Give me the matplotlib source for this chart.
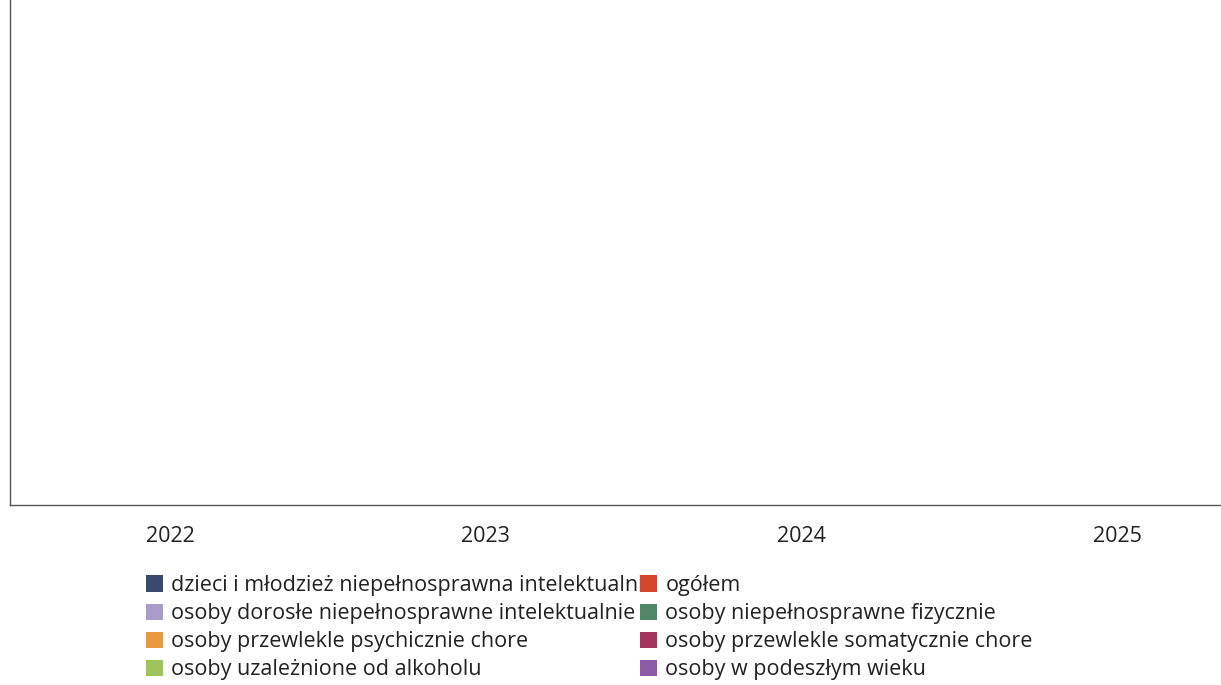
import numpy as np
import matplotlib.pyplot as plt

plt.rcParams['font.family'] = ['Open Sans', 'DejaVu Sans']

# years on the x axis
years = ["2022", "2023", "2024", "2025"]

# groups shown in the legend (no values were reported, every series is empty)
series = [
    "dzieci i młodzież niepełnosprawna intelektualnie",
    "osoby dorosłe niepełnosprawne intelektualnie",
    "osoby przewlekle psychicznie chore",
    "osoby uzależnione od alkoholu",
    "ogółem",
    "osoby niepełnosprawne fizycznie",
    "osoby przewlekle somatycznie chore",
    "osoby w podeszłym wieku",
]
values = [
    [0, 0, 0, 0],
    [0, 0, 0, 0],
    [0, 0, 0, 0],
    [0, 0, 0, 0],
    [0, 0, 0, 0],
    [0, 0, 0, 0],
    [0, 0, 0, 0],
    [0, 0, 0, 0],
]
colors = ["#3b4a6a", "#a99cc6", "#e99a3e", "#9ec45c",
          "#d6452c", "#4f8768", "#a3345b", "#8b5ba8"]

fig = plt.figure(figsize=(12.21, 6.85), dpi=100)
ax = fig.add_axes([10 / 1221, 180 / 685, 1.0, 505 / 685])

x = np.arange(len(years))
width = 0.09
handles = []
for i, (name, vals, col) in enumerate(zip(series, values, colors)):
    b = ax.bar(x + (i - 3.5) * width, vals, width, color=col, label=name,
               linewidth=0)
    handles.append(b)

ax.set_xlim(-0.506, 3.358)
ax.set_ylim(0, 1)
ax.set_xticks(x)
ax.set_xticklabels(years, fontsize=15.5, color="#222222")
ax.tick_params(axis="x", length=0, pad=15)
ax.set_yticks([])
for side in ["top", "right"]:
    ax.spines[side].set_visible(False)
for side in ["left", "bottom"]:
    ax.spines[side].set_color("#555555")
    ax.spines[side].set_linewidth(1.0)

# legend in two columns placed side by side
kw = dict(loc="upper left", frameon=False, fontsize=15.5, borderpad=0,
          borderaxespad=0, handlelength=0.78, handleheight=0.78,
          handletextpad=0.4, labelspacing=0.33, labelcolor="#222222")
leg1 = fig.legend(handles[:4], series[:4],
                  bbox_to_anchor=(146 / 1221, 1 - 575 / 685), **kw)
leg2 = fig.legend(handles[4:], series[4:],
                  bbox_to_anchor=(640 / 1221, 1 - 575 / 685), **kw)

fig.savefig("out.png", dpi=100)
